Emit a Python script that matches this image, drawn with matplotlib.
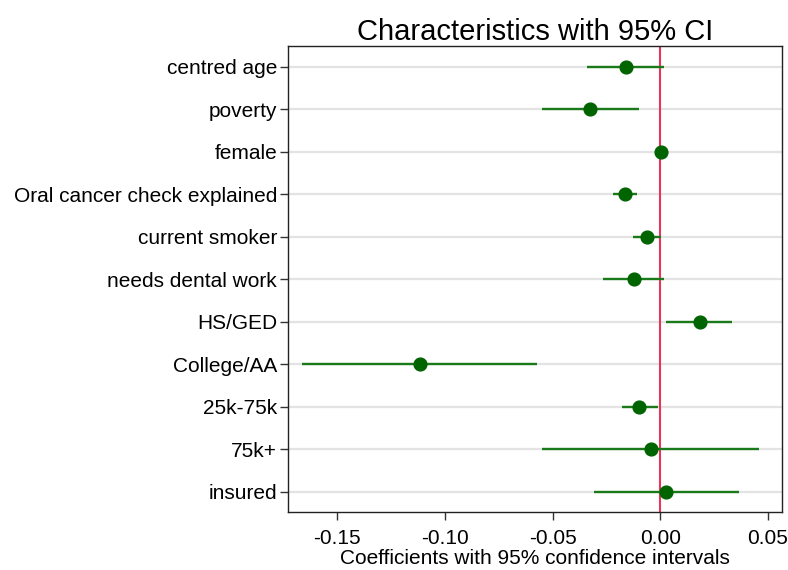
import matplotlib
matplotlib.use("Agg")
import matplotlib.pyplot as plt
import numpy as np

plt.rcParams['font.family'] = ['Liberation Sans', 'DejaVu Sans']

labels = ["centred age", "poverty", "female", "Oral cancer check explained",
          "current smoker", "needs dental work", "HS/GED", "College/AA",
          "25k-75k", "75k+", "insured"]
coef = [-0.0159, -0.0325, 0.0002, -0.0164, -0.0063, -0.0124, 0.0183, -0.1117,
        -0.0099, -0.0045, 0.0028]
ci_low = [-0.0339, -0.0549, -0.0004, -0.0218, -0.0128, -0.0265, 0.0028, -0.1663,
          -0.0179, -0.0549, -0.0306]
ci_high = [0.0019, -0.0097, 0.0008, -0.0108, 0.0002, 0.0017, 0.0334, -0.0571,
           -0.0012, 0.0460, 0.0364]
xticks = [-0.15, -0.10, -0.05, 0.00, 0.05]
xticklabels = ["-0.15", "-0.10", "-0.05", "0.00", "0.05"]

fig = plt.figure(figsize=(7.88, 5.70), dpi=100)
ax = fig.add_axes([288.3/788, 1 - 512.3/570, (781.7-288.3)/788, (512.3-45.7)/570])

n = len(labels)
ypos = np.arange(n)
for y in ypos:
    ax.axhline(y, color='#e3e3e3', lw=1.6, zorder=0)
ax.axvline(0, color='#e8365a', lw=1.5, zorder=1)
ax.hlines(ypos, ci_low, ci_high, color='#1a7a1a', lw=1.7, zorder=2)
ax.plot(coef, ypos, 'o', color='#006400', ms=9.2, zorder=3, mec='#006400')

ax.set_ylim(n - 1 + 0.48, -0.5)
ax.set_xlim(-0.1727, 0.0564)
ax.set_yticks(ypos)
ax.set_yticklabels(labels, fontsize=15)
ax.set_xticks(xticks)
ax.set_xticklabels(xticklabels, fontsize=15)
ax.tick_params(axis='both', direction='out', length=6, width=1, color='#333333')
ax.tick_params(axis='y', pad=2)
ax.tick_params(axis='x', pad=6)
for s in ax.spines.values():
    s.set_color('#222222')
    s.set_linewidth(1.0)
ax.set_xlabel("Coefficients with 95% confidence intervals", fontsize=15, labelpad=1)
ax.set_title("Characteristics with 95% CI", fontsize=21, pad=4)

fig.savefig("out.png", dpi=100)
